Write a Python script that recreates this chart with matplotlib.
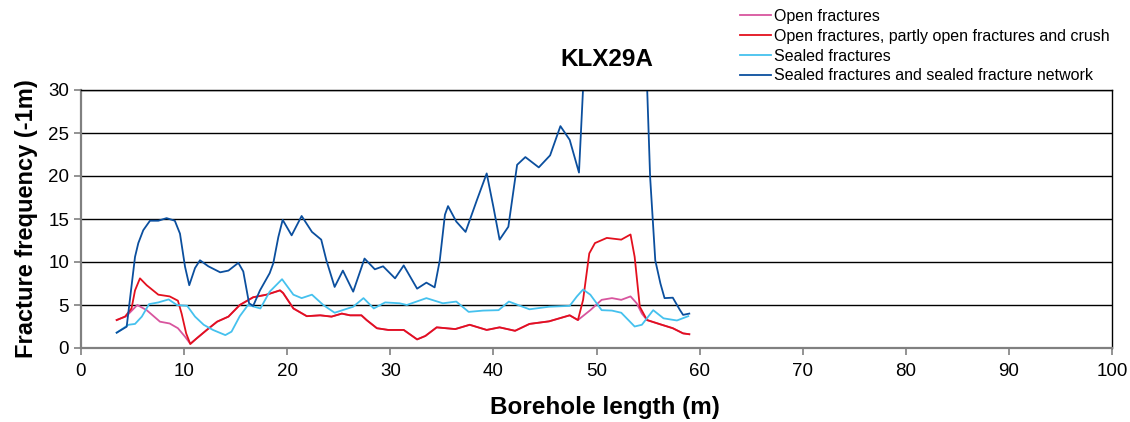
import matplotlib.pyplot as plt

plt.rcParams['font.family'] = ['Liberation Sans', 'DejaVu Sans']

# Open fractures
open_x = [3.46, 4.4, 5.46, 6.37, 7.66, 8.6, 9.4, 10.1, 10.6, 11.2, 12.2, 13.2, 14.3, 15.4, 16.7, 18.0,
          19.3, 19.6, 20.6, 21.9, 23.2, 24.3, 25.3, 26.1, 27.2, 27.7, 28.7, 29.8, 31.3, 32.6, 33.4,
          34.5, 36.3, 37.7, 39.35, 40.6, 42.1, 43.5, 45.4, 47.4, 48.2, 49.4, 50.5, 51.5, 52.4, 53.3,
          53.9, 54.4, 54.9, 56.2, 57.4, 58.4, 59.0]
open_y = [3.25, 3.7, 5.0, 4.4, 3.06, 2.85, 2.3, 1.3, 0.5, 1.1, 2.1, 3.06, 3.65, 5.0, 5.9, 6.2,
          6.7, 6.4, 4.6, 3.7, 3.8, 3.65, 4.0, 3.8, 3.8, 3.25, 2.3, 2.1, 2.1, 1.0, 1.4,
          2.4, 2.2, 2.7, 2.1, 2.4, 2.0, 2.8, 3.1, 3.8, 3.25, 4.4, 5.6, 5.8, 5.6, 6.0,
          5.2, 4.0, 3.25, 2.75, 2.3, 1.7, 1.6]

# Open fractures, partly open fractures and crush
crush_x = [3.46, 4.27, 4.9, 5.24, 5.72, 6.37, 7.5, 8.6, 9.4, 9.76, 10.2, 10.6, 11.2, 12.2, 13.2, 14.3,
           15.4, 16.7, 18.0, 19.3, 19.6, 20.6, 21.9, 23.2, 24.3, 25.3, 26.1, 27.2, 27.7, 28.7, 29.8,
           31.3, 32.6, 33.4, 34.5, 36.3, 37.7, 39.35, 40.6, 42.1, 43.5, 45.4, 47.4, 48.2, 48.7,
           49.3, 49.85, 51.0, 52.4, 53.3, 53.7, 54.2, 54.9, 56.2, 57.4, 58.4, 59.0]
crush_y = [3.25, 3.65, 4.6, 6.7, 8.1, 7.3, 6.2, 6.0, 5.5, 4.0, 1.7, 0.46, 1.1, 2.1, 3.06, 3.65,
           5.0, 5.9, 6.2, 6.7, 6.4, 4.6, 3.7, 3.8, 3.65, 4.0, 3.8, 3.8, 3.25, 2.3, 2.1,
           2.1, 1.0, 1.4, 2.4, 2.2, 2.7, 2.1, 2.4, 2.0, 2.8, 3.1, 3.8, 3.25, 5.6,
           11.0, 12.2, 12.8, 12.6, 13.2, 10.6, 4.8, 3.25, 2.75, 2.3, 1.7, 1.6]

# Sealed fractures
sealed_x = [3.46, 4.6, 5.24, 5.9, 6.6, 7.5, 8.5, 9.3, 10.3, 11.06, 11.9, 12.8, 14.0, 14.6, 15.4, 16.2,
            17.4, 18.3, 19.5, 20.6, 21.4, 22.4, 23.5, 24.6, 26.4, 27.4, 28.4, 29.5, 30.9, 31.6,
            33.5, 35.1, 36.4, 37.6, 39.0, 40.5, 41.5, 43.5, 45.4, 47.4, 48.1, 48.7, 49.4, 50.5,
            51.5, 52.4, 53.7, 54.4, 55.5, 56.5, 57.8, 58.9]
sealed_y = [1.78, 2.7, 2.8, 3.65, 5.1, 5.3, 5.65, 5.0, 4.9, 3.65, 2.7, 2.1, 1.5, 1.9, 3.7, 5.0,
            4.6, 6.55, 8.0, 6.2, 5.8, 6.2, 5.0, 4.1, 4.8, 5.8, 4.6, 5.3, 5.2, 5.0,
            5.8, 5.2, 5.4, 4.2, 4.35, 4.4, 5.4, 4.5, 4.8, 4.9, 6.0, 6.8, 6.2, 4.4,
            4.35, 4.1, 2.5, 2.7, 4.4, 3.45, 3.2, 3.7]

# Sealed fractures and sealed fracture network
network_x = [3.46, 4.43, 5.24, 5.56, 6.04, 6.69, 7.5, 8.3, 9.1, 9.6, 10.09, 10.5, 11.06, 11.54, 12.35,
             13.5, 14.3, 15.26, 15.74, 16.3, 16.7, 17.36, 18.3, 18.65, 19.14, 19.56, 20.43, 21.4,
             22.4, 23.3, 23.8, 24.6, 25.4, 26.4, 27.5, 28.5, 29.3, 30.46, 31.3, 32.6, 33.5, 34.3,
             34.8, 35.3, 35.6, 36.4, 37.3, 38.4, 39.35, 40.0, 40.6, 41.45, 42.3, 43.1, 44.4, 45.5,
             46.5, 47.4, 48.3, 49.3, 52.0, 54.5, 55.2, 55.7, 56.2, 56.6, 57.4, 58.1, 58.4, 59.0]
network_y = [1.78, 2.48, 10.6, 12.2, 13.7, 14.8, 14.8, 15.1, 14.8, 13.3, 9.45, 7.3, 9.3, 10.2, 9.5,
             8.8, 9.0, 9.9, 8.9, 5.2, 4.9, 6.7, 8.7, 9.85, 12.9, 14.9, 13.1, 15.35,
             13.5, 12.6, 10.2, 7.1, 9.0, 6.55, 10.4, 9.15, 9.5, 8.1, 9.6, 6.9, 7.6, 7.05,
             10.2, 15.5, 16.5, 14.7, 13.5, 17.2, 20.3, 16.4, 12.6, 14.1, 21.3, 22.2, 21.0, 22.4,
             25.8, 24.2, 20.4, 45.0, 50.0, 45.0, 19.9, 10.2, 7.5, 5.8, 5.85, 4.4, 3.85, 4.0]

labels = ["Open fractures",
          "Open fractures, partly open fractures and crush",
          "Sealed fractures",
          "Sealed fractures and sealed fracture network"]
colors = ["#D8559E", "#E3101E", "#45C1EE", "#0B4F9E"]

fig = plt.figure(figsize=(11.3, 4.22), dpi=100)
ax = fig.add_axes([81 / 1130, 1 - 348 / 422, (1112 - 81) / 1130, (348 - 90) / 422])

series = [(open_x, open_y), (crush_x, crush_y), (sealed_x, sealed_y), (network_x, network_y)]
for (xs, ys), lab, col in zip(series, labels, colors):
    ax.plot(xs, ys, color=col, lw=1.3, label=lab, solid_joinstyle='round')

ax.set_xlim(0, 100)
ax.set_ylim(0, 30)
ax.set_xticks(range(0, 101, 10))
ax.set_yticks(range(0, 31, 5))
ax.yaxis.grid(True, color='black', lw=1)
ax.set_axisbelow(True)
ax.tick_params(labelsize=13.5, direction='out', length=5, color='#808080', width=1.2)
ax.tick_params(axis='x', pad=6)
for s in ['left', 'bottom']:
    ax.spines[s].set_color('#808080')
    ax.spines[s].set_linewidth(1.6)
for s in ['top', 'right']:
    ax.spines[s].set_color('black')
    ax.spines[s].set_linewidth(1)

ax.set_xlabel("Borehole length (m)", fontsize=17.5, fontweight='bold')
ax.xaxis.set_label_coords((605 - 81) / 1031, -0.185)
ax.set_ylabel("Fracture frequency (-1m)", fontsize=17, fontweight='bold', labelpad=7)
fig.text(607 / 1130, 1 - 60 / 422, "KLX29A", fontsize=17.5, fontweight='bold', ha='center', va='center')

fig.legend(loc='upper left', bbox_to_anchor=(740 / 1130, 1 - 9 / 422), frameon=False,
           fontsize=11.5, handlelength=1.95, handletextpad=0.15, labelspacing=0.3,
           borderaxespad=0, borderpad=0)

fig.savefig("out.png", dpi=100)
